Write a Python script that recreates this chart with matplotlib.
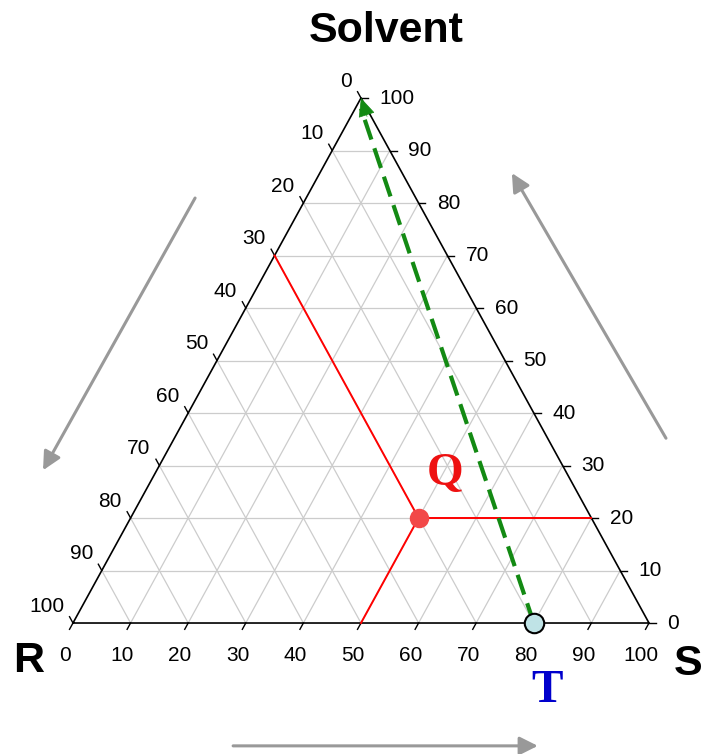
import matplotlib
matplotlib.use("Agg")
import numpy as np
import matplotlib.pyplot as plt

plt.rcParams["font.family"] = ["Liberation Sans", "DejaVu Sans"]

# compositions in percent: (R, S, Solvent)
TICKS = list(range(0, 101, 10))
GRID = list(range(10, 100, 10))
POINT_Q = (30, 50, 20)
POINT_T = (20, 80, 0)
VERTEX_SOLVENT = (0, 0, 100)

GRID_COLOR = "#cccccc"
ARROW_GRAY = "#999999"
PATH_GREEN = "#138a13"


def xy(r, s, v):
    # cartesian position: base runs R -> S, height is the solvent share
    return s + v / 2.0, v


fig = plt.figure(figsize=(7.04, 7.54), dpi=100)
ax = fig.add_axes([0, 0, 1, 1])
ax.set_xlim(-12.67, 109.55)
ax.set_ylim(-24.95, 118.67)
ax.axis("off")

# grid lines for each component
for k in GRID:
    # constant solvent (horizontal)
    p0, p1 = xy(100 - k, 0, k), xy(0, 100 - k, k)
    ax.plot([p0[0], p1[0]], [p0[1], p1[1]], color=GRID_COLOR, lw=0.9, zorder=1)
    # constant S
    p0, p1 = xy(100 - k, k, 0), xy(0, k, 100 - k)
    ax.plot([p0[0], p1[0]], [p0[1], p1[1]], color=GRID_COLOR, lw=0.9, zorder=1)
    # constant R
    p0, p1 = xy(k, 100 - k, 0), xy(k, 0, 100 - k)
    ax.plot([p0[0], p1[0]], [p0[1], p1[1]], color=GRID_COLOR, lw=0.9, zorder=1)

# triangle frame
corners = [xy(100, 0, 0), xy(0, 100, 0), xy(0, 0, 100), xy(100, 0, 0)]
ax.plot([c[0] for c in corners], [c[1] for c in corners], color="black", lw=1.2, zorder=3)

# ticks and tick labels
tick_len = 1.2
for k in TICKS:
    # bottom axis: S share
    bx, by = xy(100 - k, k, 0)
    ax.plot([bx, bx - 0.5 * tick_len], [by, by - tick_len], color="black", lw=1.0, zorder=3)
    ax.text(bx - 1.4, by - 6.1, str(k), ha="center", va="center", fontsize=15)
    # right axis: solvent share
    rx, ry = xy(0, 100 - k, k)
    ax.plot([rx, rx + tick_len], [ry, ry], color="black", lw=1.0, zorder=3)
    ax.text(rx + 3.2, ry, str(k), ha="left", va="center", fontsize=15)
    # left axis: R share
    lx, ly = xy(k, 0, 100 - k)
    ax.plot([lx, lx - 0.5 * tick_len], [ly, ly + tick_len], color="black", lw=1.0, zorder=3)
    ax.text(lx - 1.5, ly + 3.2, str(k), ha="right", va="center", fontsize=15)

# construction lines through Q
qr, qs, qv = POINT_Q
qx, qy = xy(*POINT_Q)
for end in [xy(0, 0, 100 - qr), xy(0, 100 - qv, qv), xy(100 - qs, qs, 0)]:
    ax.plot([qx, end[0]], [qy, end[1]], color="red", lw=1.4, zorder=4)

# dashed path from T up to the solvent vertex
tx, ty = xy(*POINT_T)
topx, topy = xy(*VERTEX_SOLVENT)
ax.plot([tx, topx], [ty, topy - 2], color=PATH_GREEN, lw=3.0, dashes=(5, 2.2), zorder=5)
ax.annotate("", xy=(topx, topy), xytext=(topx + 0.035 * (tx - topx), topy + 0.035 * (ty - topy)),
            arrowprops=dict(arrowstyle="-|>,head_length=0.55,head_width=0.25",
                            color=PATH_GREEN, lw=0.5, mutation_scale=22,
                            shrinkA=0, shrinkB=0), zorder=6)

ax.plot([qx], [qy], "o", ms=14, color="#f24848", mec="none", zorder=7)
ax.plot([tx], [ty], "o", ms=14, mfc="#bfe3e6", mec="black", mew=1.5, zorder=7)

ax.text(qx + 4.6, qy + 8.4, "Q", color="#ee1111", fontsize=34, fontweight="bold",
        family="Liberation Serif", ha="center", va="center", zorder=8)
ax.text(tx + 2.3, ty - 13.0, "T", color="#0000cc", fontsize=34, fontweight="bold",
        family="Liberation Serif", ha="center", va="center", zorder=8)

# direction arrows outside the triangle
arrow_kw = dict(arrowstyle="-|>,head_length=0.5,head_width=0.25", color=ARROW_GRAY,
                lw=2.2, mutation_scale=22, shrinkA=0, shrinkB=0)
for start, tip in [((21.2, 80.95), (-5.2, 29.1)),
                   ((102.95, 35.2), (76.2, 85.7)),
                   ((27.8, -23.4), (80.7, -23.4))]:
    ax.annotate("", xy=tip, xytext=start, arrowprops=arrow_kw)

fig.text(386 / 704, 1 - 31 / 754, "Solvent", ha="center", va="center", fontsize=31, fontweight="bold")
fig.text(29 / 704, 1 - 661 / 754, "R", ha="center", va="center", fontsize=31, fontweight="bold")
fig.text(688 / 704, 1 - 664 / 754, "S", ha="center", va="center", fontsize=31, fontweight="bold")

fig.savefig("out.png", dpi=100)
